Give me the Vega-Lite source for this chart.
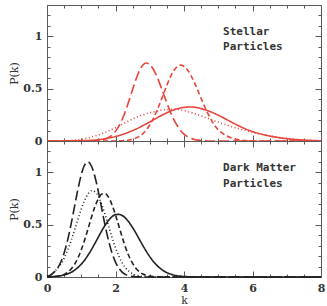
{
  "$schema": "https://vega.github.io/schema/vega-lite/v6.json",
  "background": "white",
  "padding": {"left": 8, "top": 4, "right": 4, "bottom": 0},
  "spacing": 0,
  "bounds": "flush",
  "config": {
    "view": {"stroke": null},
    "axis": {
      "grid": false,
      "domainColor": "#5a5a5a",
      "tickColor": "#5a5a5a",
      "domainWidth": 1,
      "tickWidth": 1,
      "labelOverlap": false,
      "labelFlush": false,
      "labelFont": "DejaVu Serif",
      "labelFontSize": 11,
      "labelFontWeight": "bold",
      "labelColor": "#333333",
      "titleFont": "DejaVu Serif",
      "titleFontSize": 11,
      "titleFontWeight": "normal",
      "titleColor": "#333333"
    },
    "line": {"strokeWidth": 1.6, "interpolate": "monotone"}
  },
  "datasets": {
    "stellar": [
      {"s": "long", "k": 0, "p": 0}, {"s": "long", "k": 1.3, "p": 0}, {"s": "long", "k": 1.4, "p": 0.002}, {"s": "long", "k": 1.5, "p": 0.005},
      {"s": "long", "k": 1.6, "p": 0.009}, {"s": "long", "k": 1.7, "p": 0.018}, {"s": "long", "k": 1.8, "p": 0.033}, {"s": "long", "k": 1.9, "p": 0.056},
      {"s": "long", "k": 2.0, "p": 0.092}, {"s": "long", "k": 2.1, "p": 0.142}, {"s": "long", "k": 2.2, "p": 0.21}, {"s": "long", "k": 2.3, "p": 0.293},
      {"s": "long", "k": 2.4, "p": 0.391}, {"s": "long", "k": 2.5, "p": 0.493}, {"s": "long", "k": 2.6, "p": 0.591}, {"s": "long", "k": 2.7, "p": 0.672},
      {"s": "long", "k": 2.8, "p": 0.726}, {"s": "long", "k": 2.9, "p": 0.745}, {"s": "long", "k": 3.0, "p": 0.73}, {"s": "long", "k": 3.1, "p": 0.688},
      {"s": "long", "k": 3.2, "p": 0.622}, {"s": "long", "k": 3.3, "p": 0.541}, {"s": "long", "k": 3.4, "p": 0.452}, {"s": "long", "k": 3.5, "p": 0.363},
      {"s": "long", "k": 3.6, "p": 0.279}, {"s": "long", "k": 3.7, "p": 0.207}, {"s": "long", "k": 3.8, "p": 0.148}, {"s": "long", "k": 3.9, "p": 0.101},
      {"s": "long", "k": 4.0, "p": 0.066}, {"s": "long", "k": 4.1, "p": 0.042}, {"s": "long", "k": 4.2, "p": 0.025}, {"s": "long", "k": 4.3, "p": 0.015},
      {"s": "long", "k": 4.4, "p": 0.008}, {"s": "long", "k": 4.5, "p": 0.004}, {"s": "long", "k": 4.6, "p": 0.002}, {"s": "long", "k": 4.7, "p": 0},
      {"s": "long", "k": 8, "p": 0},

      {"s": "short", "k": 0, "p": 0}, {"s": "short", "k": 2.0, "p": 0}, {"s": "short", "k": 2.1, "p": 0.001}, {"s": "short", "k": 2.2, "p": 0.003},
      {"s": "short", "k": 2.3, "p": 0.005}, {"s": "short", "k": 2.4, "p": 0.01}, {"s": "short", "k": 2.5, "p": 0.017}, {"s": "short", "k": 2.6, "p": 0.028},
      {"s": "short", "k": 2.7, "p": 0.045}, {"s": "short", "k": 2.8, "p": 0.071}, {"s": "short", "k": 2.9, "p": 0.106}, {"s": "short", "k": 3.0, "p": 0.153},
      {"s": "short", "k": 3.1, "p": 0.212}, {"s": "short", "k": 3.2, "p": 0.283}, {"s": "short", "k": 3.3, "p": 0.363}, {"s": "short", "k": 3.4, "p": 0.449},
      {"s": "short", "k": 3.5, "p": 0.533}, {"s": "short", "k": 3.6, "p": 0.61}, {"s": "short", "k": 3.7, "p": 0.671}, {"s": "short", "k": 3.8, "p": 0.711},
      {"s": "short", "k": 3.9, "p": 0.725}, {"s": "short", "k": 4.0, "p": 0.713}, {"s": "short", "k": 4.1, "p": 0.68}, {"s": "short", "k": 4.2, "p": 0.628},
      {"s": "short", "k": 4.3, "p": 0.562}, {"s": "short", "k": 4.4, "p": 0.486}, {"s": "short", "k": 4.5, "p": 0.408}, {"s": "short", "k": 4.6, "p": 0.332},
      {"s": "short", "k": 4.7, "p": 0.261}, {"s": "short", "k": 4.8, "p": 0.199}, {"s": "short", "k": 4.9, "p": 0.147}, {"s": "short", "k": 5.0, "p": 0.106},
      {"s": "short", "k": 5.1, "p": 0.08}, {"s": "short", "k": 5.2, "p": 0.057}, {"s": "short", "k": 5.3, "p": 0.04}, {"s": "short", "k": 5.4, "p": 0.028},
      {"s": "short", "k": 5.5, "p": 0.018}, {"s": "short", "k": 5.6, "p": 0.012}, {"s": "short", "k": 5.7, "p": 0.007}, {"s": "short", "k": 5.8, "p": 0.004},
      {"s": "short", "k": 5.9, "p": 0.002}, {"s": "short", "k": 6.0, "p": 0}, {"s": "short", "k": 8, "p": 0},

      {"s": "solid", "k": 0, "p": 0}, {"s": "solid", "k": 0.4, "p": 0}, {"s": "solid", "k": 0.6, "p": 0.001}, {"s": "solid", "k": 0.8, "p": 0.001},
      {"s": "solid", "k": 1.0, "p": 0.002}, {"s": "solid", "k": 1.2, "p": 0.005}, {"s": "solid", "k": 1.4, "p": 0.009}, {"s": "solid", "k": 1.6, "p": 0.017},
      {"s": "solid", "k": 1.8, "p": 0.028}, {"s": "solid", "k": 2.0, "p": 0.043}, {"s": "solid", "k": 2.2, "p": 0.062}, {"s": "solid", "k": 2.4, "p": 0.086},
      {"s": "solid", "k": 2.6, "p": 0.114}, {"s": "solid", "k": 2.8, "p": 0.147}, {"s": "solid", "k": 3.0, "p": 0.182}, {"s": "solid", "k": 3.2, "p": 0.219},
      {"s": "solid", "k": 3.4, "p": 0.254}, {"s": "solid", "k": 3.6, "p": 0.285}, {"s": "solid", "k": 3.8, "p": 0.307}, {"s": "solid", "k": 4.0, "p": 0.321},
      {"s": "solid", "k": 4.2, "p": 0.325}, {"s": "solid", "k": 4.4, "p": 0.318}, {"s": "solid", "k": 4.6, "p": 0.3}, {"s": "solid", "k": 4.8, "p": 0.276},
      {"s": "solid", "k": 5.0, "p": 0.247}, {"s": "solid", "k": 5.2, "p": 0.213}, {"s": "solid", "k": 5.4, "p": 0.178}, {"s": "solid", "k": 5.6, "p": 0.145},
      {"s": "solid", "k": 5.8, "p": 0.115}, {"s": "solid", "k": 6.0, "p": 0.09}, {"s": "solid", "k": 6.2, "p": 0.07}, {"s": "solid", "k": 6.4, "p": 0.055},
      {"s": "solid", "k": 6.6, "p": 0.042}, {"s": "solid", "k": 6.8, "p": 0.031}, {"s": "solid", "k": 7.0, "p": 0.023}, {"s": "solid", "k": 7.2, "p": 0.016},
      {"s": "solid", "k": 7.4, "p": 0.011}, {"s": "solid", "k": 7.6, "p": 0.007}, {"s": "solid", "k": 7.8, "p": 0.004}, {"s": "solid", "k": 8.0, "p": 0.002},

      {"s": "dot", "k": 0, "p": 0}, {"s": "dot", "k": 0.4, "p": 0.001}, {"s": "dot", "k": 0.6, "p": 0.004}, {"s": "dot", "k": 0.8, "p": 0.009},
      {"s": "dot", "k": 1.0, "p": 0.017}, {"s": "dot", "k": 1.2, "p": 0.03}, {"s": "dot", "k": 1.4, "p": 0.048}, {"s": "dot", "k": 1.6, "p": 0.07},
      {"s": "dot", "k": 1.8, "p": 0.097}, {"s": "dot", "k": 2.0, "p": 0.127}, {"s": "dot", "k": 2.2, "p": 0.16}, {"s": "dot", "k": 2.4, "p": 0.195},
      {"s": "dot", "k": 2.6, "p": 0.225}, {"s": "dot", "k": 2.8, "p": 0.25}, {"s": "dot", "k": 3.0, "p": 0.27}, {"s": "dot", "k": 3.2, "p": 0.287},
      {"s": "dot", "k": 3.4, "p": 0.298}, {"s": "dot", "k": 3.6, "p": 0.304}, {"s": "dot", "k": 3.8, "p": 0.302}, {"s": "dot", "k": 4.0, "p": 0.29},
      {"s": "dot", "k": 4.2, "p": 0.273}, {"s": "dot", "k": 4.4, "p": 0.252}, {"s": "dot", "k": 4.6, "p": 0.228}, {"s": "dot", "k": 4.8, "p": 0.203},
      {"s": "dot", "k": 5.0, "p": 0.18}, {"s": "dot", "k": 5.2, "p": 0.158}, {"s": "dot", "k": 5.4, "p": 0.137}, {"s": "dot", "k": 5.6, "p": 0.118},
      {"s": "dot", "k": 5.8, "p": 0.1}, {"s": "dot", "k": 6.0, "p": 0.084}, {"s": "dot", "k": 6.2, "p": 0.069}, {"s": "dot", "k": 6.4, "p": 0.055},
      {"s": "dot", "k": 6.6, "p": 0.043}, {"s": "dot", "k": 6.8, "p": 0.032}, {"s": "dot", "k": 7.0, "p": 0.023}, {"s": "dot", "k": 7.2, "p": 0.015},
      {"s": "dot", "k": 7.4, "p": 0.009}, {"s": "dot", "k": 7.6, "p": 0.005}, {"s": "dot", "k": 7.8, "p": 0.002}, {"s": "dot", "k": 8.0, "p": 0.001}
    ],
    "dark": [
      {"s": "long", "k": 0.0, "p": 0.006}, {"s": "long", "k": 0.1, "p": 0.018}, {"s": "long", "k": 0.2, "p": 0.044}, {"s": "long", "k": 0.3, "p": 0.081},
      {"s": "long", "k": 0.4, "p": 0.141}, {"s": "long", "k": 0.5, "p": 0.23}, {"s": "long", "k": 0.6, "p": 0.35}, {"s": "long", "k": 0.7, "p": 0.5},
      {"s": "long", "k": 0.8, "p": 0.667}, {"s": "long", "k": 0.9, "p": 0.834}, {"s": "long", "k": 1.0, "p": 0.977}, {"s": "long", "k": 1.1, "p": 1.071},
      {"s": "long", "k": 1.2, "p": 1.1}, {"s": "long", "k": 1.3, "p": 1.059}, {"s": "long", "k": 1.4, "p": 0.958}, {"s": "long", "k": 1.5, "p": 0.815},
      {"s": "long", "k": 1.6, "p": 0.65}, {"s": "long", "k": 1.7, "p": 0.487}, {"s": "long", "k": 1.8, "p": 0.344}, {"s": "long", "k": 1.9, "p": 0.228},
      {"s": "long", "k": 2.0, "p": 0.142}, {"s": "long", "k": 2.1, "p": 0.083}, {"s": "long", "k": 2.2, "p": 0.045}, {"s": "long", "k": 2.3, "p": 0.023},
      {"s": "long", "k": 2.4, "p": 0.011}, {"s": "long", "k": 2.5, "p": 0.005}, {"s": "long", "k": 2.6, "p": 0.002}, {"s": "long", "k": 2.7, "p": 0.001},
      {"s": "long", "k": 2.8, "p": 0}, {"s": "long", "k": 8, "p": 0},

      {"s": "dot", "k": 0.0, "p": 0.008}, {"s": "dot", "k": 0.1, "p": 0.022}, {"s": "dot", "k": 0.2, "p": 0.049}, {"s": "dot", "k": 0.3, "p": 0.079},
      {"s": "dot", "k": 0.4, "p": 0.121}, {"s": "dot", "k": 0.5, "p": 0.179}, {"s": "dot", "k": 0.6, "p": 0.253}, {"s": "dot", "k": 0.7, "p": 0.342},
      {"s": "dot", "k": 0.8, "p": 0.443}, {"s": "dot", "k": 0.9, "p": 0.548}, {"s": "dot", "k": 1.0, "p": 0.648}, {"s": "dot", "k": 1.1, "p": 0.733},
      {"s": "dot", "k": 1.2, "p": 0.794}, {"s": "dot", "k": 1.3, "p": 0.824}, {"s": "dot", "k": 1.4, "p": 0.815}, {"s": "dot", "k": 1.5, "p": 0.77},
      {"s": "dot", "k": 1.6, "p": 0.692}, {"s": "dot", "k": 1.7, "p": 0.593}, {"s": "dot", "k": 1.8, "p": 0.484}, {"s": "dot", "k": 1.9, "p": 0.376},
      {"s": "dot", "k": 2.0, "p": 0.279}, {"s": "dot", "k": 2.1, "p": 0.197}, {"s": "dot", "k": 2.2, "p": 0.133}, {"s": "dot", "k": 2.3, "p": 0.085},
      {"s": "dot", "k": 2.4, "p": 0.052}, {"s": "dot", "k": 2.5, "p": 0.03}, {"s": "dot", "k": 2.6, "p": 0.017}, {"s": "dot", "k": 2.7, "p": 0.009},
      {"s": "dot", "k": 2.8, "p": 0.004}, {"s": "dot", "k": 2.9, "p": 0.002}, {"s": "dot", "k": 3.0, "p": 0.001}, {"s": "dot", "k": 3.1, "p": 0},
      {"s": "dot", "k": 8, "p": 0},

      {"s": "short", "k": 0.0, "p": 0}, {"s": "short", "k": 0.1, "p": 0.001}, {"s": "short", "k": 0.2, "p": 0.003}, {"s": "short", "k": 0.3, "p": 0.007},
      {"s": "short", "k": 0.4, "p": 0.013}, {"s": "short", "k": 0.5, "p": 0.025}, {"s": "short", "k": 0.6, "p": 0.044}, {"s": "short", "k": 0.7, "p": 0.074},
      {"s": "short", "k": 0.8, "p": 0.118}, {"s": "short", "k": 0.9, "p": 0.18}, {"s": "short", "k": 1.0, "p": 0.26}, {"s": "short", "k": 1.1, "p": 0.356},
      {"s": "short", "k": 1.2, "p": 0.463}, {"s": "short", "k": 1.3, "p": 0.573}, {"s": "short", "k": 1.4, "p": 0.672}, {"s": "short", "k": 1.5, "p": 0.749},
      {"s": "short", "k": 1.6, "p": 0.793}, {"s": "short", "k": 1.7, "p": 0.797}, {"s": "short", "k": 1.8, "p": 0.761}, {"s": "short", "k": 1.9, "p": 0.689},
      {"s": "short", "k": 2.0, "p": 0.594}, {"s": "short", "k": 2.1, "p": 0.485}, {"s": "short", "k": 2.2, "p": 0.377}, {"s": "short", "k": 2.3, "p": 0.277},
      {"s": "short", "k": 2.4, "p": 0.194}, {"s": "short", "k": 2.5, "p": 0.13}, {"s": "short", "k": 2.6, "p": 0.082}, {"s": "short", "k": 2.7, "p": 0.049},
      {"s": "short", "k": 2.8, "p": 0.028}, {"s": "short", "k": 2.9, "p": 0.015}, {"s": "short", "k": 3.0, "p": 0.008}, {"s": "short", "k": 3.1, "p": 0.004},
      {"s": "short", "k": 3.2, "p": 0.002}, {"s": "short", "k": 3.3, "p": 0.001}, {"s": "short", "k": 3.4, "p": 0}, {"s": "short", "k": 8, "p": 0},

      {"s": "solid", "k": 0.0, "p": 0.001}, {"s": "solid", "k": 0.1, "p": 0.003}, {"s": "solid", "k": 0.2, "p": 0.005}, {"s": "solid", "k": 0.3, "p": 0.008},
      {"s": "solid", "k": 0.4, "p": 0.012}, {"s": "solid", "k": 0.5, "p": 0.02}, {"s": "solid", "k": 0.6, "p": 0.03}, {"s": "solid", "k": 0.7, "p": 0.044},
      {"s": "solid", "k": 0.8, "p": 0.064}, {"s": "solid", "k": 0.9, "p": 0.09}, {"s": "solid", "k": 1.0, "p": 0.122}, {"s": "solid", "k": 1.1, "p": 0.162},
      {"s": "solid", "k": 1.2, "p": 0.21}, {"s": "solid", "k": 1.3, "p": 0.263}, {"s": "solid", "k": 1.4, "p": 0.322}, {"s": "solid", "k": 1.5, "p": 0.382},
      {"s": "solid", "k": 1.6, "p": 0.442}, {"s": "solid", "k": 1.7, "p": 0.496}, {"s": "solid", "k": 1.8, "p": 0.542}, {"s": "solid", "k": 1.9, "p": 0.577},
      {"s": "solid", "k": 2.0, "p": 0.596}, {"s": "solid", "k": 2.1, "p": 0.599}, {"s": "solid", "k": 2.2, "p": 0.587}, {"s": "solid", "k": 2.3, "p": 0.56},
      {"s": "solid", "k": 2.4, "p": 0.521}, {"s": "solid", "k": 2.5, "p": 0.472}, {"s": "solid", "k": 2.6, "p": 0.417}, {"s": "solid", "k": 2.7, "p": 0.358},
      {"s": "solid", "k": 2.8, "p": 0.3}, {"s": "solid", "k": 2.9, "p": 0.245}, {"s": "solid", "k": 3.0, "p": 0.195}, {"s": "solid", "k": 3.1, "p": 0.151},
      {"s": "solid", "k": 3.2, "p": 0.114}, {"s": "solid", "k": 3.3, "p": 0.084}, {"s": "solid", "k": 3.4, "p": 0.06}, {"s": "solid", "k": 3.5, "p": 0.042},
      {"s": "solid", "k": 3.6, "p": 0.029}, {"s": "solid", "k": 3.7, "p": 0.019}, {"s": "solid", "k": 3.8, "p": 0.012}, {"s": "solid", "k": 3.9, "p": 0.008},
      {"s": "solid", "k": 4.0, "p": 0.005}, {"s": "solid", "k": 4.1, "p": 0.003}, {"s": "solid", "k": 4.2, "p": 0.002}, {"s": "solid", "k": 4.3, "p": 0.001},
      {"s": "solid", "k": 4.4, "p": 0}, {"s": "solid", "k": 8, "p": 0}
    ]
  },
  "vconcat": [
    {
      "width": 274,
      "height": 136,
      "data": {"name": "stellar"},
      "layer": [
        {
          "layer": [
            {
              "mark": {"type": "line", "color": "#e8443a"},
              "encoding": {
                "x": {"field": "k", "type": "quantitative", "scale": {"domain": [0, 8], "nice": false},
                  "axis": {"orient": "bottom", "values": [0, 2, 4, 6, 8], "tickSize": -6, "labels": false, "title": null}},
                "y": {"field": "p", "type": "quantitative", "scale": {"domain": [0, 1.3], "nice": false},
                  "axis": {"orient": "left", "values": [0, 0.5, 1], "format": "~g", "tickSize": -6, "labelPadding": 11, "title": "P(k)", "titlePadding": 3}},
                "strokeDash": {"field": "s", "type": "nominal", "legend": null,
                  "scale": {"domain": ["solid", "long", "short", "dot"], "range": [[1, 0], [10, 4], [5, 3], [1, 2.5]]}}
              }
            },
            {
              "data": {"values": [{}]},
              "mark": {"type": "text", "align": "left", "baseline": "middle", "font": "DejaVu Sans Mono", "fontSize": 11, "fontWeight": "bold", "lineHeight": 15.6, "color": "#333333"},
              "encoding": {
                "x": {"datum": 5.14, "type": "quantitative"},
                "y": {"datum": 1.045, "type": "quantitative"},
                "text": {"value": ["Stellar", "Particles"]}
              }
            }
          ]
        },
        {
          "mark": {"type": "point", "opacity": 0},
          "encoding": {
            "x": {"field": "k", "type": "quantitative", "axis": {"orient": "top", "values": [0, 2, 4, 6, 8], "tickSize": -6, "labels": false, "title": null}},
            "y": {"field": "p", "type": "quantitative", "axis": {"orient": "right", "values": [0, 0.5, 1], "tickSize": -6, "labels": false, "title": null}}
          }
        },
        {
          "mark": {"type": "point", "opacity": 0},
          "encoding": {
            "x": {"field": "k", "type": "quantitative", "axis": {"orient": "bottom", "values": [0.5, 1, 1.5, 2.5, 3, 3.5, 4.5, 5, 5.5, 6.5, 7, 7.5], "tickSize": -3, "labels": false, "title": null}},
            "y": {"field": "p", "type": "quantitative", "axis": {"orient": "left", "values": [0.1, 0.2, 0.3, 0.4, 0.6, 0.7, 0.8, 0.9, 1.1, 1.2], "tickSize": -3, "labels": false, "title": null}}
          }
        },
        {
          "mark": {"type": "point", "opacity": 0},
          "encoding": {
            "x": {"field": "k", "type": "quantitative", "axis": {"orient": "top", "values": [0.5, 1, 1.5, 2.5, 3, 3.5, 4.5, 5, 5.5, 6.5, 7, 7.5], "tickSize": -3, "labels": false, "title": null}},
            "y": {"field": "p", "type": "quantitative", "axis": {"orient": "right", "values": [0.1, 0.2, 0.3, 0.4, 0.6, 0.7, 0.8, 0.9, 1.1, 1.2], "tickSize": -3, "labels": false, "title": null}}
          }
        }
      ],
      "resolve": {"axis": {"x": "independent", "y": "independent"}}
    },
    {
      "width": 274,
      "height": 136,
      "data": {"name": "dark"},
      "layer": [
        {
          "layer": [
            {
              "mark": {"type": "line", "color": "#222222"},
              "encoding": {
                "x": {"field": "k", "type": "quantitative", "scale": {"domain": [0, 8], "nice": false},
                  "axis": {"orient": "bottom", "values": [0, 2, 4, 6, 8], "format": "d", "tickSize": -6, "labelPadding": 11, "title": "k", "titlePadding": 1}},
                "y": {"field": "p", "type": "quantitative", "scale": {"domain": [0, 1.3], "nice": false},
                  "axis": {"orient": "left", "values": [0, 0.5, 1], "format": "~g", "tickSize": -6, "labelPadding": 11, "title": "P(k)", "titlePadding": 3}},
                "strokeDash": {"field": "s", "type": "nominal", "legend": null,
                  "scale": {"domain": ["solid", "long", "short", "dot"], "range": [[1, 0], [10, 4], [5, 3], [1, 2.5]]}}
              }
            },
            {
              "data": {"values": [{}]},
              "mark": {"type": "text", "align": "left", "baseline": "middle", "font": "DejaVu Sans Mono", "fontSize": 11, "fontWeight": "bold", "lineHeight": 16, "color": "#333333"},
              "encoding": {
                "x": {"datum": 5.14, "type": "quantitative"},
                "y": {"datum": 1.043, "type": "quantitative"},
                "text": {"value": ["Dark Matter", "Particles"]}
              }
            }
          ]
        },
        {
          "mark": {"type": "point", "opacity": 0},
          "encoding": {
            "x": {"field": "k", "type": "quantitative", "axis": {"orient": "top", "values": [0, 2, 4, 6, 8], "tickSize": -6, "labels": false, "title": null}},
            "y": {"field": "p", "type": "quantitative", "axis": {"orient": "right", "values": [0, 0.5, 1], "tickSize": -6, "labels": false, "title": null}}
          }
        },
        {
          "mark": {"type": "point", "opacity": 0},
          "encoding": {
            "x": {"field": "k", "type": "quantitative", "axis": {"orient": "bottom", "values": [0.5, 1, 1.5, 2.5, 3, 3.5, 4.5, 5, 5.5, 6.5, 7, 7.5], "tickSize": -3, "labels": false, "title": null}},
            "y": {"field": "p", "type": "quantitative", "axis": {"orient": "left", "values": [0.1, 0.2, 0.3, 0.4, 0.6, 0.7, 0.8, 0.9, 1.1, 1.2], "tickSize": -3, "labels": false, "title": null}}
          }
        },
        {
          "mark": {"type": "point", "opacity": 0},
          "encoding": {
            "x": {"field": "k", "type": "quantitative", "axis": {"orient": "top", "values": [0.5, 1, 1.5, 2.5, 3, 3.5, 4.5, 5, 5.5, 6.5, 7, 7.5], "tickSize": -3, "labels": false, "title": null}},
            "y": {"field": "p", "type": "quantitative", "axis": {"orient": "right", "values": [0.1, 0.2, 0.3, 0.4, 0.6, 0.7, 0.8, 0.9, 1.1, 1.2], "tickSize": -3, "labels": false, "title": null}}
          }
        }
      ],
      "resolve": {"axis": {"x": "independent", "y": "independent"}}
    }
  ]
}
